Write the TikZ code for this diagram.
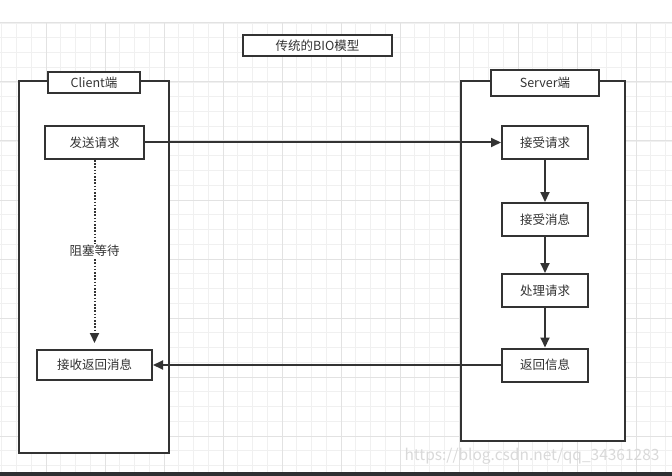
\documentclass[tikz,border=0pt]{standalone}
\usepackage{fontspec}
\setmainfont{Noto Sans CJK SC}
\usetikzlibrary{arrows.meta}
\definecolor{linecol}{HTML}{333333}
\definecolor{minorgrid}{HTML}{F0F0F0}
\definecolor{majorgrid}{HTML}{E2E2E2}
\definecolor{bandcol}{HTML}{2E2F32}
\tikzset{
  stepbox/.style={draw=linecol, line width=2pt, fill=white, inner sep=0pt,
    font=\fontsize{12.5}{14}\selectfont, text=linecol},
  lane/.style={draw=linecol, line width=2pt, fill=white, inner sep=0pt},
  flow/.style={draw=linecol, line width=2pt, -{Triangle[length=10pt,width=9pt]}},
  wait/.style={draw=linecol, line width=2pt, dash pattern=on 1.6pt off 1.6pt,
    -{Triangle[length=10pt,width=9pt]}, shorten >=6pt}
}
\begin{document}
\begin{tikzpicture}[x=1pt,y=-1pt]
\useasboundingbox (0,0) rectangle (672,476);
% background grid
%-----------------------------------------------------------%
\fill[white] (0,0) rectangle (672,476);
  \foreach \x in {1.75,16.5,...,672}
    {\draw[minorgrid, line width=0.8pt] (\x,23) -- (\x,472);}
  \foreach \y in {23,37.75,...,472}
    {\draw[minorgrid, line width=0.8pt] (0,\y) -- (672,\y);}
  \foreach \x in {46,105,...,672}
    {\draw[majorgrid, line width=1pt] (\x,23) -- (\x,472);}
  \foreach \y in {23,82,...,472}
    {\draw[majorgrid, line width=1pt] (0,\y) -- (672,\y);}
% bottom band
\fill[bandcol] (0,472) rectangle (672,476);
%-----------------------------------------------------------%
% title
\node[stepbox, minimum width=149pt, minimum height=21pt] (title) at (317.5,45.5) {传统的BIO模型};
% client lane
\node[lane, minimum width=150pt, minimum height=372pt] (client) at (94,267) {};
\node[stepbox, minimum width=92pt, minimum height=21pt] (clientlbl) at (94,82.5) {Client端};
\node[stepbox, minimum width=99pt, minimum height=33pt] (send) at (94.5,142.5) {发送请求};
\node[stepbox, minimum width=115pt, minimum height=30pt] (recv) at (94.5,365) {接收返回消息};
% server lane
\node[lane, minimum width=164pt, minimum height=360pt] (server) at (543,261) {};
\node[stepbox, minimum width=108pt, minimum height=26pt] (serverlbl) at (545,83) {Server端};
\node[stepbox, minimum width=86pt, minimum height=33pt] (accept) at (545,142.5) {接受请求};
\node[stepbox, minimum width=86pt, minimum height=33pt] (message) at (545,219.5) {接受消息};
\node[stepbox, minimum width=86pt, minimum height=33pt] (handle) at (545,290.5) {处理请求};
\node[stepbox, minimum width=86pt, minimum height=33pt] (reply) at (545,365) {返回信息};
%-----------------------------------------------------------%
% request and reply
\draw[flow] (send.east) -- (accept.west);
\draw[flow] (reply.west) -- (recv.east);
% server steps
\draw[flow] (accept) -- (message);
\draw[flow] (message) -- (handle);
\draw[flow] (handle) -- (reply);
% blocking wait
\draw[wait] (send.south) -- (recv.north)
  node[pos=0.48, fill=white, inner sep=1pt, font=\fontsize{12.5}{14}\selectfont, text=linecol] (block) {阻塞等待};
% watermark
\node[text=gray!30, font=\fontsize{15.5}{18}\selectfont, anchor=east] (mark) at (663,456) {https://blog.csdn.net/qq\_34361283};
\end{tikzpicture}
\end{document}
